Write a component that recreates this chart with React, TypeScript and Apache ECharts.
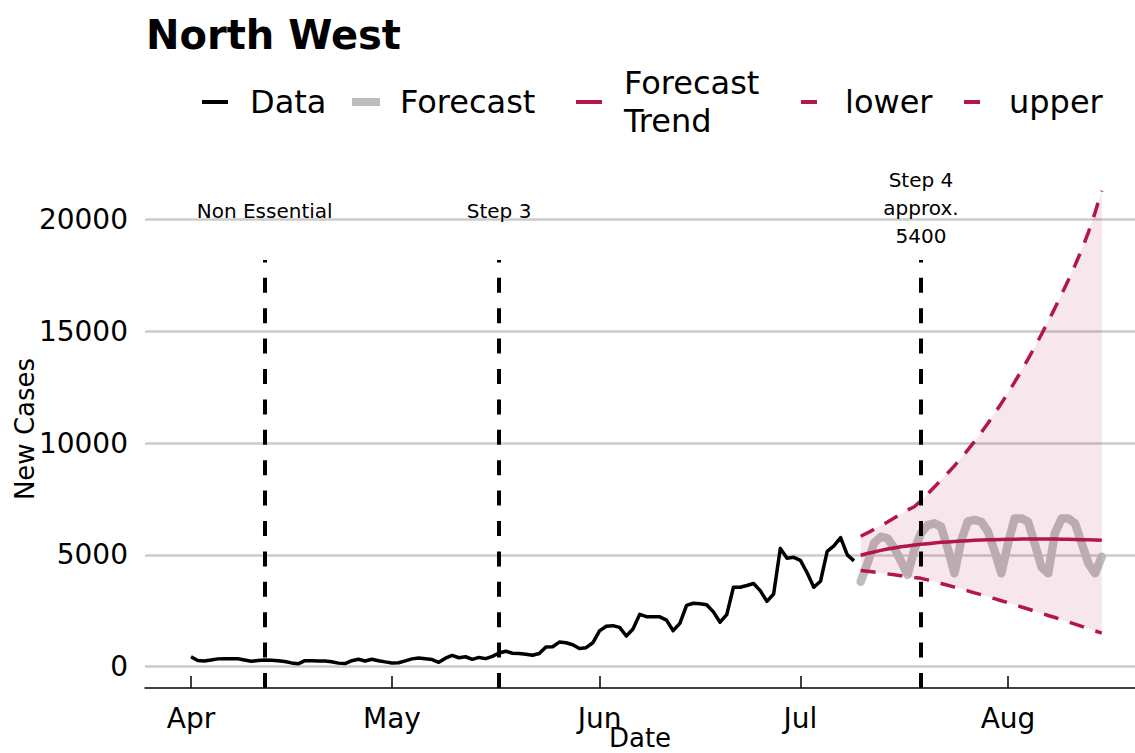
import React, { useEffect, useRef } from "react";
import * as echarts from "echarts";

// Daily new cases from 1 Apr 2021 (day 0) to 9 Jul 2021 (day 99)
const observedCases = [
  447, 280, 255, 300, 350, 360, 358, 355, 300, 241,
  280, 300, 290, 268, 230, 170, 130, 268, 262, 258,
  255, 220, 160, 140, 270, 330, 255, 330, 270, 215,
  170, 178, 260, 350, 390, 355, 320, 195, 380, 505,
  400, 445, 330, 415, 360, 460, 610, 690, 600, 590,
  560, 510, 590, 880, 895, 1100, 1070, 980, 810, 850,
  1070, 1600, 1810, 1835, 1760, 1370, 1685, 2340, 2235, 2235,
  2230, 2080, 1610, 1940, 2740, 2835, 2815, 2770, 2450, 1990,
  2330, 3550, 3550, 3630, 3720, 3400, 2920, 3250, 5290, 4850,
  4890, 4750, 4200, 3550, 3820, 5160, 5400, 5770, 5000, 4730,
];

// Forecast horizon: day 100 (10 Jul) to day 136 (15 Aug)
const forecastFirstDay = 100;
const forecastCases = [
  3800, 4600, 5530, 5810, 5740, 5320, 4730, 4100, 5220, 5970,
  6330, 6410, 6260, 5300, 4175, 5635, 6500, 6560, 6480, 6040,
  5170, 4175, 5515, 6630, 6630, 6480, 5500, 4450, 4175, 5970,
  6630, 6630, 6410, 5520, 4620, 4175, 4920,
];
const trendCases = [
  4980, 5060, 5130, 5200, 5260, 5310, 5360, 5400, 5440, 5470,
  5500, 5530, 5560, 5580, 5600, 5620, 5635, 5650, 5660, 5670,
  5680, 5690, 5695, 5700, 5705, 5708, 5710, 5710, 5708, 5705,
  5700, 5695, 5688, 5680, 5670, 5660, 5650,
];
const lowerCases = [
  4300, 4270, 4230, 4190, 4150, 4110, 4070, 4030, 3990, 3950,
  3880, 3800, 3720, 3640, 3560, 3470, 3390, 3300, 3220, 3130,
  3040, 2950, 2860, 2770, 2670, 2580, 2480, 2390, 2290, 2200,
  2100, 2000, 1900, 1800, 1700, 1600, 1500,
];
const upperCases = [
  5830, 5980, 6140, 6300, 6470, 6650, 6830, 7010, 7150, 7420,
  7720, 8030, 8350, 8660, 8980, 9330, 9690, 10070, 10470, 10880,
  11320, 11770, 12240, 12730, 13230, 13760, 14300, 14860, 15440, 16030,
  16650, 17280, 17940, 18640, 19420, 20300, 21280,
];

// Reopening steps
const stepDates = ["2021-04-12", "2021-05-17", "2021-07-19"];
const stepLabels = ["Non Essential", "Step 3", "Step 4\napprox.\n5400"];

// Axis ticks
const monthTickDates = ["2021-04-01", "2021-05-01", "2021-06-01", "2021-07-01", "2021-08-01"];
const monthNames = ["Jan", "Feb", "Mar", "Apr", "May", "Jun", "Jul", "Aug", "Sep", "Oct", "Nov", "Dec"];
const caseTicks = [0, 5000, 10000, 15000, 20000];

const FONT = "'DejaVu Sans', 'Liberation Sans', Arial, sans-serif";
const CRIMSON = "#b3174a";
const BAND_FILL = "rgba(181, 23, 74, 0.11)";
const DAY = 86400000;

const toTime = (s: string) => {
  const [y, m, d] = s.split("-").map(Number);
  return new Date(y, m - 1, d).getTime();
};
const dayTime = (d: number) => new Date(2021, 3, 1 + d).getTime();
const seriesPairs = (vals: number[], firstDay: number) =>
  vals.map((v, i) => [dayTime(firstDay + i), v]);

const X_MIN = dayTime(0) - 6.869 * DAY;
const X_MAX = X_MIN + 147.83 * DAY;
const Y_MIN = -952;
const Y_MAX = 22204;
const STEP_LINE_TOP = 18180;

function buildOption() {
  const legendText = { fontFamily: FONT, fontSize: 32, lineHeight: 34, color: "#000" };
  const legendBase = {
    selectedMode: false,
    padding: 0,
    icon: "rect",
    itemHeight: 4,
  };
  return {
    animation: false,
    backgroundColor: "#ffffff",
    title: {
      text: "North West",
      left: 146,
      top: 15,
      padding: 0,
      textStyle: { fontFamily: FONT, fontSize: 40, lineHeight: 40, fontWeight: "bold", color: "#000" },
    },
    legend: [
      {
        ...legendBase,
        left: 202, top: 85, itemWidth: 26,
        data: [{ name: "Data", itemStyle: { color: "#000", borderWidth: 0 } }],
        textStyle: { ...legendText, padding: [0, 0, 0, 17] },
      },
      {
        ...legendBase,
        left: 352, top: 85, itemWidth: 28, itemHeight: 8,
        data: [{ name: "Forecast", itemStyle: { color: "#bdbdbd", borderWidth: 0 } }],
        textStyle: { ...legendText, padding: [0, 0, 0, 15] },
      },
      {
        ...legendBase,
        left: 576, top: 64, itemWidth: 26,
        data: [{ name: "Forecast Trend", itemStyle: { color: CRIMSON, borderWidth: 0 } }],
        formatter: () => "Forecast\nTrend",
        textStyle: { ...legendText, lineHeight: 38, padding: [0, 0, 0, 17] },
      },
      {
        ...legendBase,
        left: 801, top: 85, itemWidth: 16,
        data: [{ name: "lower", itemStyle: { color: CRIMSON, borderWidth: 0 } }],
        textStyle: { ...legendText, padding: [0, 0, 0, 23] },
      },
      {
        ...legendBase,
        left: 964, top: 85, itemWidth: 16,
        data: [{ name: "upper", itemStyle: { color: CRIMSON, borderWidth: 0 } }],
        textStyle: { ...legendText, padding: [0, 0, 0, 24] },
      },
    ],
    grid: { left: 145, right: 0, top: 170, bottom: 65, containLabel: false, outerBoundsMode: "none" },
    xAxis: {
      type: "value",
      min: X_MIN,
      max: X_MAX,
      name: "Date",
      nameLocation: "middle",
      nameGap: 38,
      nameMoveOverlap: false,
      nameTextStyle: { fontFamily: FONT, fontSize: 26, lineHeight: 24, color: "#000" },
      axisLine: { onZero: false, lineStyle: { color: "#000", width: 1.5 } },
      axisTick: {
        show: true, inside: true, length: 12,
        lineStyle: { color: "#000", width: 1.5 },
        customValues: monthTickDates.map(toTime),
      },
      axisLabel: {
        customValues: monthTickDates.map(toTime),
        formatter: (v: number) => monthNames[new Date(v).getMonth()],
        fontFamily: FONT, fontSize: 28, lineHeight: 28, color: "#000", margin: 16,
        hideOverlap: false,
        showMinLabel: true,
        showMaxLabel: true,
      },
      splitLine: { show: false },
    },
    yAxis: {
      type: "value",
      min: Y_MIN,
      max: Y_MAX,
      name: "New Cases",
      nameLocation: "middle",
      nameGap: 107,
      nameMoveOverlap: false,
      nameTextStyle: { fontFamily: FONT, fontSize: 26, lineHeight: 26, color: "#000" },
      axisLine: { show: false },
      axisTick: { show: false, customValues: caseTicks },
      axisLabel: {
        customValues: caseTicks,
        formatter: (v: number) => String(v),
        fontFamily: FONT, fontSize: 28, color: "#000", margin: 17,
      },
      splitLine: { show: true, lineStyle: { color: "#cbcbcb", width: 2.5 } },
    },
    series: [
      {
        name: "Forecast",
        type: "line",
        z: 2,
        symbol: "none",
        data: seriesPairs(forecastCases, forecastFirstDay),
        itemStyle: { color: "#bdbdbd" },
        lineStyle: { color: "#bdbdbd", width: 8.5, join: "round", cap: "round" },
        silent: true,
      },
      {
        // prediction interval between the lower and upper bounds
        name: "interval",
        type: "custom",
        z: 3,
        silent: true,
        data: lowerCases.map((l, i) => [dayTime(forecastFirstDay + i), l, upperCases[i]]),
        encode: { x: 0, y: [1, 2] },
        renderItem: (params: any, api: any) => {
          if (params.dataIndex !== 0) return null;
          const top = upperCases.map((u, i) => api.coord([dayTime(forecastFirstDay + i), u]));
          const bottom = lowerCases
            .map((l, i) => api.coord([dayTime(forecastFirstDay + i), l]))
            .reverse();
          return {
            type: "polygon",
            shape: { points: top.concat(bottom) },
            style: { fill: BAND_FILL, stroke: "none" },
          };
        },
      },
      {
        name: "Forecast Trend",
        type: "line",
        z: 4,
        symbol: "none",
        data: seriesPairs(trendCases, forecastFirstDay),
        itemStyle: { color: CRIMSON },
        lineStyle: { color: CRIMSON, width: 3.5 },
        silent: true,
      },
      {
        name: "lower",
        type: "line",
        z: 4,
        symbol: "none",
        data: seriesPairs(lowerCases, forecastFirstDay),
        itemStyle: { color: CRIMSON },
        lineStyle: { color: CRIMSON, width: 3.5, type: [15, 12] },
        silent: true,
      },
      {
        name: "upper",
        type: "line",
        z: 4,
        symbol: "none",
        data: seriesPairs(upperCases, forecastFirstDay),
        itemStyle: { color: CRIMSON },
        lineStyle: { color: CRIMSON, width: 3.5, type: [15, 12] },
        silent: true,
      },
      {
        name: "Data",
        type: "line",
        z: 5,
        symbol: "none",
        data: seriesPairs(observedCases, 0),
        itemStyle: { color: "#000" },
        lineStyle: { color: "#000", width: 3.5, join: "round" },
        silent: true,
        markLine: {
          silent: true,
          symbol: ["none", "none"],
          lineStyle: { color: "#000", width: 4, type: [15, 15.4] },
          label: {
            show: true,
            position: "end",
            color: "#000",
            fontFamily: FONT,
            fontSize: 20,
            lineHeight: 28,
            align: "center",
          },
          data: stepDates.map((d, i) => [
            {
              coord: [toTime(d), Y_MIN],
              label: { formatter: stepLabels[i], distance: i === 2 ? 10 : 35 },
            },
            { coord: [toTime(d), STEP_LINE_TOP] },
          ]),
        },
      },
    ],
  };
}

export default function App() {
  const ref = useRef<HTMLDivElement>(null);
  useEffect(() => {
    if (!ref.current) return;
    const chart = echarts.init(ref.current, null, { renderer: "svg" });
    chart.setOption(buildOption() as any);
    return () => chart.dispose();
  }, []);
  return (
    <div
      ref={ref}
      style={{ position: "absolute", left: 0, top: 0, width: 1135, height: 753, background: "#fff" }}
    />
  );
}
